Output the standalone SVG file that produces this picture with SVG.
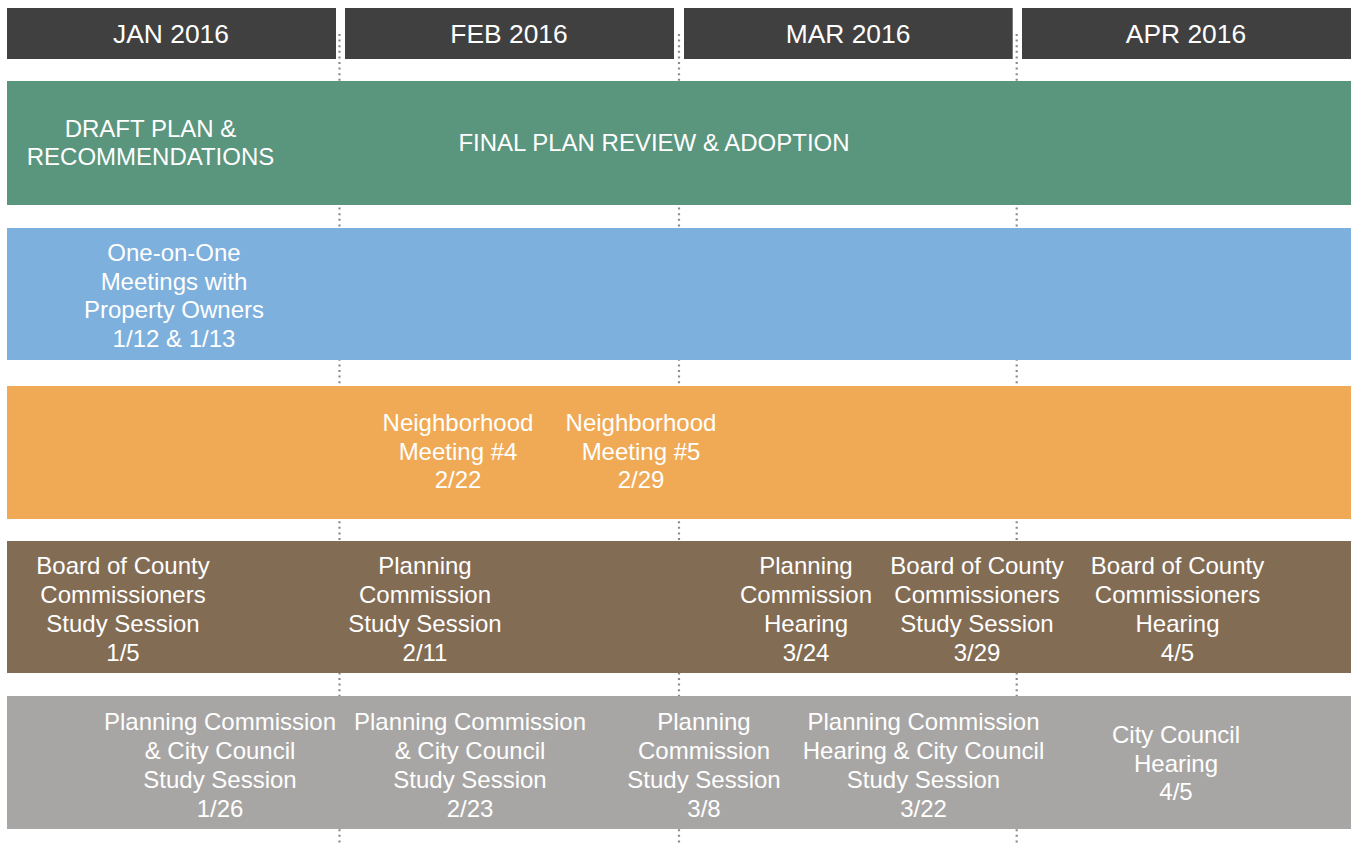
<svg xmlns="http://www.w3.org/2000/svg" width="1351" height="843" viewBox="0 0 1351 843">
<style>
.hd{fill:#404040}
.ht{font-family:"Liberation Sans",Arial,sans-serif;font-size:26.4px;fill:#ffffff;text-anchor:middle}
.t{font-family:"Liberation Sans",Arial,sans-serif;font-size:24px;fill:#ffffff;text-anchor:middle}
.dot{stroke:#8a8a8a;stroke-width:2.2;stroke-dasharray:2 3.6;fill:none}
</style>
<rect width="1351" height="843" fill="#ffffff"/>
<g id="connectors">
<line class="dot" x1="339.5" y1="34" x2="339.5" y2="843"/>
<line class="dot" x1="679" y1="34" x2="679" y2="843"/>
<line class="dot" x1="1016.7" y1="34" x2="1016.7" y2="843"/>
</g>
<g id="header-jan"><rect class="hd" x="7" y="8" width="329" height="51"/><text class="ht" x="171" y="42.5">JAN 2016</text></g>
<g id="header-feb"><rect class="hd" x="345" y="8" width="329" height="51"/><text class="ht" x="509" y="42.5">FEB 2016</text></g>
<g id="header-mar"><rect class="hd" x="684" y="8" width="328.7" height="51"/><text class="ht" x="848" y="42.5">MAR 2016</text></g>
<g id="header-apr"><rect class="hd" x="1022" y="8" width="329" height="51"/><text class="ht" x="1186" y="42.5">APR 2016</text></g>

<g id="band-plan">
<rect x="7" y="81" width="1344" height="124" fill="#5a957d"/>
<text class="t" x="150.5" y="136.5">DRAFT PLAN &amp;</text>
<text class="t" x="150.5" y="165">RECOMMENDATIONS</text>
<text class="t" x="654" y="151">FINAL PLAN REVIEW &amp; ADOPTION</text>
</g>

<g id="band-meetings">
<rect x="7" y="228" width="1344" height="132" fill="#7db0dc"/>
<text class="t" x="174" y="261">One-on-One</text>
<text class="t" x="174" y="289.7">Meetings with</text>
<text class="t" x="174" y="318.4">Property Owners</text>
<text class="t" x="174" y="347.1">1/12 &amp; 1/13</text>
</g>

<g id="band-neighborhood">
<rect x="7" y="386" width="1344" height="133" fill="#f0aa55"/>
<g id="nm4">
<text class="t" x="458" y="431">Neighborhood</text>
<text class="t" x="458" y="459.5">Meeting #4</text>
<text class="t" x="458" y="488">2/22</text>
</g>
<g id="nm5">
<text class="t" x="641" y="431">Neighborhood</text>
<text class="t" x="641" y="459.5">Meeting #5</text>
<text class="t" x="641" y="488">2/29</text>
</g>
</g>

<g id="band-county">
<rect x="7" y="541" width="1344" height="132" fill="#836c54"/>
<g id="boc-1-5">
<text class="t" x="123" y="574">Board of County</text>
<text class="t" x="123" y="602.8">Commissioners</text>
<text class="t" x="123" y="631.6">Study Session</text>
<text class="t" x="123" y="660.5">1/5</text>
</g>
<g id="pc-2-11">
<text class="t" x="425" y="574">Planning</text>
<text class="t" x="425" y="602.8">Commission</text>
<text class="t" x="425" y="631.6">Study Session</text>
<text class="t" x="425" y="660.5">2/11</text>
</g>
<g id="pc-3-24">
<text class="t" x="806" y="574">Planning</text>
<text class="t" x="806" y="602.8">Commission</text>
<text class="t" x="806" y="631.6">Hearing</text>
<text class="t" x="806" y="660.5">3/24</text>
</g>
<g id="boc-3-29">
<text class="t" x="977" y="574">Board of County</text>
<text class="t" x="977" y="602.8">Commissioners</text>
<text class="t" x="977" y="631.6">Study Session</text>
<text class="t" x="977" y="660.5">3/29</text>
</g>
<g id="boc-4-5">
<text class="t" x="1177.5" y="574">Board of County</text>
<text class="t" x="1177.5" y="602.8">Commissioners</text>
<text class="t" x="1177.5" y="631.6">Hearing</text>
<text class="t" x="1177.5" y="660.5">4/5</text>
</g>
</g>

<g id="band-city">
<rect x="7" y="696" width="1344" height="133" fill="#a8a6a4"/>
<g id="pccc-1-26">
<text class="t" x="220" y="730">Planning Commission</text>
<text class="t" x="220" y="758.8">&amp; City Council</text>
<text class="t" x="220" y="787.6">Study Session</text>
<text class="t" x="220" y="816.5">1/26</text>
</g>
<g id="pccc-2-23">
<text class="t" x="470" y="730">Planning Commission</text>
<text class="t" x="470" y="758.8">&amp; City Council</text>
<text class="t" x="470" y="787.6">Study Session</text>
<text class="t" x="470" y="816.5">2/23</text>
</g>
<g id="pc-3-8">
<text class="t" x="704" y="730">Planning</text>
<text class="t" x="704" y="758.8">Commission</text>
<text class="t" x="704" y="787.6">Study Session</text>
<text class="t" x="704" y="816.5">3/8</text>
</g>
<g id="pccc-3-22">
<text class="t" x="923.5" y="730">Planning Commission</text>
<text class="t" x="923.5" y="758.8">Hearing &amp; City Council</text>
<text class="t" x="923.5" y="787.6">Study Session</text>
<text class="t" x="923.5" y="816.5">3/22</text>
</g>
<g id="cc-4-5">
<text class="t" x="1176" y="743">City Council</text>
<text class="t" x="1176" y="771.5">Hearing</text>
<text class="t" x="1176" y="800">4/5</text>
</g>
</g>
</svg>
